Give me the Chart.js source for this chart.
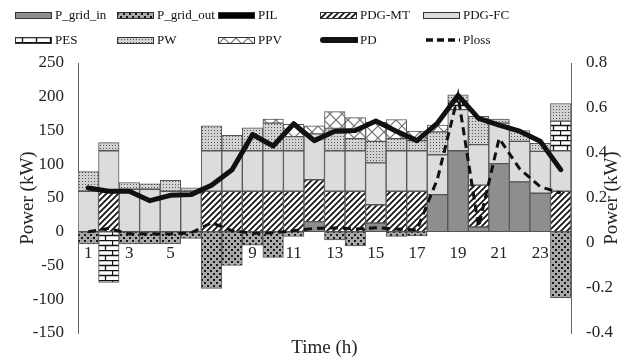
<!DOCTYPE html>
<html>
<head>
<meta charset="utf-8">
<script src="https://cdn.jsdelivr.net/npm/chart.js@4.4.1/dist/chart.umd.min.js"></script>
<style>
  html, body { margin: 0; padding: 0; background: #fff; }
  #wrap { position: relative; width: 643px; height: 361px; }
  #chart { position: absolute; left: 0; top: 0; }
  .lg { position: absolute; font: 13px "Liberation Serif", serif; color: #111; white-space: nowrap; line-height: 16px; }
  .lg canvas { position: absolute; left: 0; }
  .lg span { position: absolute; }
</style>
</head>
<body>
<div id="wrap">
  <canvas id="chart" width="643" height="361"></canvas>
  <div id="legend"></div>
</div>
<script>
const hours = ['1','2','3','4','5','6','7','8','9','10','11','12','13','14','15','16','17','18','19','20','21','22','23','24'];

// bar series (kW)
const gridIn  = [0, 0, 0, 0, 0, 0, 0, 0, 0, 0, 0, 15, 0, 0, 13, 0, 0, 55, 120, 7, 101, 74, 57, 0];
const gridOut = [-18, 0, -18, -18, -18, -10, -84, -50, -20, -38, -7, 0, -12, -21, 0, -7, -6, 0, 0, 0, 0, 0, 0, -98];
const pil     = [0, 0, 0, 0, 0, 0, 0, 0, 0, 0, 0, 0, 0, 0, 0, 0, 0, 0, 0, 0, 0, 0, 0, 0];
const pdgMT   = [0, 60, 0, 0, 0, 0, 60, 60, 60, 60, 60, 62, 60, 60, 27, 60, 60, 0, 0, 62, 0, 0, 0, 60];
const pdgFC   = [60, 60, 63, 63, 60, 60, 60, 60, 60, 60, 60, 68, 60, 60, 62, 60, 60, 59, 61, 60, 60, 60, 62, 60];
const pes     = [0, -75, 0, 0, 0, 0, 0, 0, 0, 0, 0, 0, 0, 0, 0, 0, 0, 0, 12, 0, 0, 0, 0, 44];
const pw      = [29, 12, 10, 8, 16, 5, 37, 23, 34, 41, 21, 0, 33, 18, 32, 18, 15, 34, 10, 42, 6, 16, 12, 26];
const ppv     = [0, 0, 0, 0, 0, 0, 0, 0, 0, 6, 18, 12, 25, 31, 28, 28, 14, 10, 0, 0, 0, 0, 0, 0];

// line series
const pd    = [65, 60, 60, 46, 54, 55, 69, 92, 144, 127, 160, 135, 149, 150, 164, 149, 135, 161, 202, 168, 158, 149, 134, 92];
const ploss = [0.05, 0.065, 0.04, 0.04, 0.04, 0.045, 0.09, 0.055, 0.043, 0.045, 0.055, 0.065, 0.067, 0.062, 0.068, 0.062, 0.058, 0.285, 0.655, 0.072, 0.465, 0.33, 0.25, 0.222];

const leftTicks = { min: -150, max: 250, step: 50 };
const rightTicks = { min: -0.4, max: 0.8, step: 0.2 };

const serif = '"Liberation Serif", "Times New Roman", serif';

function tile(w, h, draw) {
  const c = document.createElement('canvas');
  c.width = w; c.height = h;
  const g = c.getContext('2d');
  draw(g);
  return document.createElement('canvas').getContext('2d').createPattern(c, 'repeat');
}

const fills = {
  gridIn: '#8e8e8e',
  gridOut: tile(6, 6, g => {
    g.fillStyle = '#a9a9a9'; g.fillRect(0, 0, 6, 6);
    g.fillStyle = '#161616'; g.fillRect(0, 0, 2, 2); g.fillRect(3, 3, 2, 2);
  }),
  pil: '#000',
  mt: tile(6, 6, g => {
    g.fillStyle = '#fff'; g.fillRect(0, 0, 6, 6);
    g.strokeStyle = '#111'; g.lineWidth = 1.7;
    g.beginPath();
    g.moveTo(-1, 7); g.lineTo(7, -1);
    g.moveTo(-4, 4); g.lineTo(4, -4);
    g.moveTo(2, 10); g.lineTo(10, 2);
    g.stroke();
  }),
  fc: '#dcdcdc',
  pes: tile(14, 10, g => {
    g.fillStyle = '#fff'; g.fillRect(0, 0, 14, 10);
    g.strokeStyle = '#111'; g.lineWidth = 1.3;
    g.beginPath();
    g.moveTo(0, 0.5); g.lineTo(14, 0.5);
    g.moveTo(0, 5.5); g.lineTo(14, 5.5);
    g.moveTo(0.5, 0); g.lineTo(0.5, 5.5);
    g.moveTo(7.5, 5.5); g.lineTo(7.5, 10);
    g.stroke();
  }),
  pw: tile(3, 3, g => {
    g.fillStyle = '#d2d2d2'; g.fillRect(0, 0, 3, 3);
    g.fillStyle = '#555'; g.fillRect(1, 1, 1, 1);
  }),
  ppv: tile(12, 12, g => {
    g.fillStyle = '#fff'; g.fillRect(0, 0, 12, 12);
    g.strokeStyle = '#6e6e6e'; g.lineWidth = 1.2;
    g.beginPath();
    g.moveTo(0, 0); g.lineTo(12, 12);
    g.moveTo(12, 0); g.lineTo(0, 12);
    g.stroke();
  })
};

function barSet(label, values, fill) {
  return {
    type: 'bar', label, data: values.map(v => v === 0 ? null : v),
    backgroundColor: fill, borderColor: '#555', borderWidth: 1,
    borderSkipped: false, yAxisID: 'y', stack: 'p', order: 1,
    categoryPercentage: 1.0, barPercentage: 1.0
  };
}

const datasets = [
  barSet('P_grid_in', gridIn, fills.gridIn),
  barSet('P_grid_out', gridOut, fills.gridOut),
  barSet('PIL', pil, fills.pil),
  barSet('PDG-MT', pdgMT, fills.mt),
  barSet('PDG-FC', pdgFC, fills.fc),
  barSet('PES', pes, fills.pes),
  barSet('PW', pw, fills.pw),
  barSet('PPV', ppv, fills.ppv),
  {
    type: 'line', label: 'PD', data: pd, yAxisID: 'y', order: 0,
    borderColor: '#111', borderWidth: 5, pointRadius: 0, tension: 0,
    borderCapStyle: 'round', borderJoinStyle: 'round', fill: false
  },
  {
    type: 'line', label: 'Ploss', data: ploss, yAxisID: 'y1', order: 0,
    borderColor: '#111', borderWidth: 3, borderDash: [8, 5], pointRadius: 0, tension: 0,
    fill: false
  }
];

// right-hand axis title reads bottom-to-top, like the left one
const rightTitle = {
  id: 'rightTitle',
  afterDraw(chart) {
    const s = chart.scales.y1;
    const ctx = chart.ctx;
    ctx.save();
    ctx.translate(612, (s.top + s.bottom) / 2);
    ctx.rotate(-Math.PI / 2);
    ctx.font = '19px ' + serif;
    ctx.fillStyle = '#222';
    ctx.textAlign = 'center';
    ctx.textBaseline = 'middle';
    ctx.fillText('Power (kW)', 0, 0);
    ctx.restore();
  }
};

new Chart(document.getElementById('chart'), {
  data: { labels: hours, datasets },
  plugins: [rightTitle],
  options: {
    responsive: false,
    animation: false,
    devicePixelRatio: 1,
    layout: { padding: { top: 63, left: 0, right: 0, bottom: 0 } },
    plugins: { legend: { display: false }, tooltip: { enabled: false } },
    scales: {
      x: {
        type: 'category', position: { y: 0 }, offset: true,
        grid: { display: false, drawTicks: false }, border: { display: false },
        ticks: {
          autoSkip: false, maxRotation: 0, padding: 12, color: '#222',
          font: { family: serif, size: 17 },
          callback: (v, i) => (i % 2 === 0 ? hours[i] : '')
        }
      },
      x2: {
        type: 'category', position: 'bottom', offset: true,
        grid: { display: false, drawTicks: false }, border: { display: false },
        ticks: { display: false },
        title: { display: true, text: 'Time (h)', color: '#222', font: { family: serif, size: 19 }, padding: { top: 0, bottom: 2 } },
        afterFit: s => { s.height = 28; }
      },
      y: {
        position: 'left', min: leftTicks.min, max: leftTicks.max,
        grid: { display: false, drawTicks: false },
        border: { display: true, color: '#666', width: 1 },
        ticks: { stepSize: leftTicks.step, padding: 14, color: '#222', font: { family: serif, size: 17 } },
        title: { display: true, text: 'Power (kW)', color: '#222', font: { family: serif, size: 19 }, padding: { top: 17, bottom: 0 } },
        afterFit: s => { s.width = 78; }
      },
      y1: {
        position: 'right', min: rightTicks.min, max: rightTicks.max,
        grid: { display: false, drawTicks: false },
        border: { display: true, color: '#666', width: 1 },
        ticks: {
          stepSize: rightTicks.step, padding: 15, color: '#222', font: { family: serif, size: 17 },
          callback: v => String(Math.round(v * 10) / 10)
        },
        title: { display: false },
        afterFit: s => { s.width = 72; }
      }
    }
  }
});

// legend, laid out in the same 5-column grid as the reference
const legendItems = [
  { text: 'P_grid_in', fill: fills.gridIn, col: 0, row: 0 },
  { text: 'P_grid_out', fill: fills.gridOut, col: 1, row: 0 },
  { text: 'PIL', fill: fills.pil, col: 2, row: 0 },
  { text: 'PDG-MT', fill: fills.mt, col: 3, row: 0 },
  { text: 'PDG-FC', fill: fills.fc, col: 4, row: 0 },
  { text: 'PES', fill: fills.pes, col: 0, row: 1 },
  { text: 'PW', fill: fills.pw, col: 1, row: 1 },
  { text: 'PPV', fill: fills.ppv, col: 2, row: 1 },
  { text: 'PD', line: 'solid', col: 3, row: 1 },
  { text: 'Ploss', line: 'dash', col: 4, row: 1 }
];
const colX = [15, 117, 218, 320, 423];
const rowY = [15, 40];
const legend = document.getElementById('legend');
legendItems.forEach(it => {
  const d = document.createElement('div');
  d.className = 'lg';
  d.style.left = colX[it.col] + 'px';
  d.style.top = (rowY[it.row] - 8) + 'px';
  const c = document.createElement('canvas');
  c.width = 38; c.height = 16;
  const g = c.getContext('2d');
  if (it.line) {
    g.strokeStyle = '#111';
    g.lineCap = it.line === 'solid' ? 'round' : 'butt';
    g.lineWidth = it.line === 'solid' ? 6 : 3.5;
    if (it.line === 'dash') g.setLineDash([7, 4]);
    g.beginPath(); g.moveTo(3, 8); g.lineTo(37, 8); g.stroke();
  } else {
    g.fillStyle = it.fill; g.fillRect(0.5, 5.5, 36, 6);
    g.strokeStyle = '#333'; g.lineWidth = 1; g.strokeRect(0.5, 5.5, 36, 6);
  }
  const s = document.createElement('span');
  s.textContent = it.text;
  s.style.left = '40px';
  s.style.top = '0px';
  d.appendChild(c);
  d.appendChild(s);
  legend.appendChild(d);
});
</script>
</body>
</html>
